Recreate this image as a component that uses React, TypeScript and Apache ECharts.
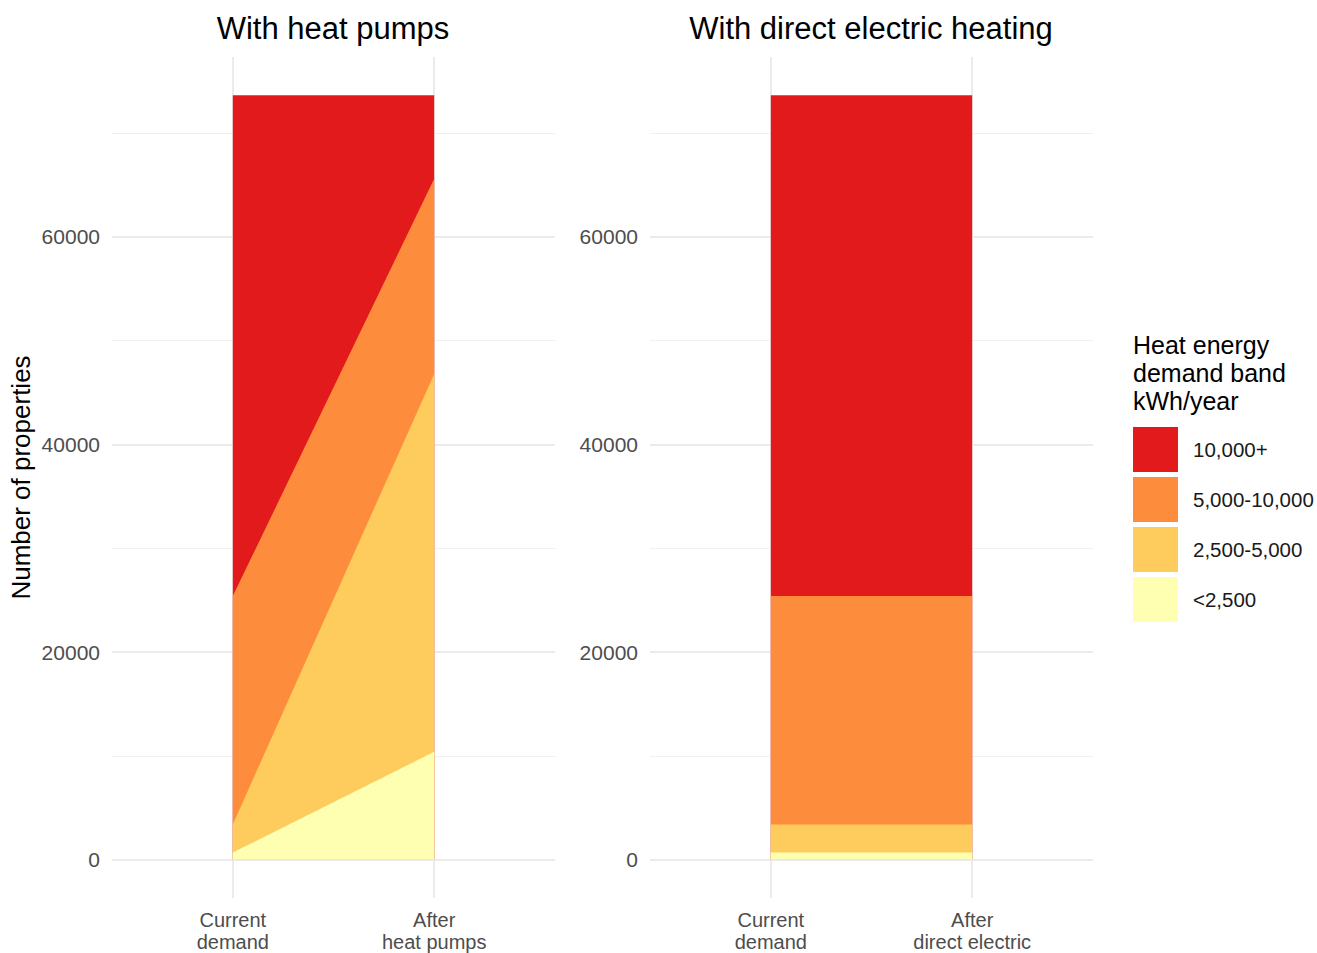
import React, { useEffect, useRef } from 'react';
import * as echarts from 'echarts';

// ---- data ----
const bands = ['<2,500', '2,500-5,000', '5,000-10,000', '10,000+'];
const bandColors = ['#FFFFB2', '#FECC5C', '#FD8D3C', '#E31A1C'];
const legendOrder = ['10,000+', '5,000-10,000', '2,500-5,000', '<2,500'];
const panelTitles = ['With heat pumps', 'With direct electric heating'];
const heatPumpCategories = ['Current\ndemand', 'After\nheat pumps'];
const directCategories = ['Current\ndemand', 'After\ndirect electric'];
const xPositions = [1, 2];
// band counts, bottom (<2,500) to top (10,000+)
const heatPumpsCurrent = [700, 2700, 22000, 48250];
const heatPumpsAfter = [10400, 36400, 18800, 8050];
const directCurrent = [700, 2700, 22000, 48250];
const directAfter = [700, 2700, 22000, 48250];
const yTickValues = [0, 20000, 40000, 60000];
const yMinorValues = [10000, 30000, 50000, 70000];
const legendTitle = 'Heat energy\ndemand band\nkWh/year';
const yAxisTitle = 'Number of properties';

const FONT = '"Liberation Sans", Arial, sans-serif';

function cumulative(arr: number[]): number[] {
  const out: number[] = [];
  let s = 0;
  for (const v of arr) {
    s += v;
    out.push(s);
  }
  return out;
}

export default function App() {
  const ref = useRef<HTMLDivElement>(null);

  useEffect(() => {
    if (!ref.current) return;
    const chart = echarts.init(ref.current, null, { renderer: 'svg' });

    const panels = [
      { cur: cumulative(heatPumpsCurrent), after: cumulative(heatPumpsAfter), cats: heatPumpCategories },
      { cur: cumulative(directCurrent), after: cumulative(directAfter), cats: directCategories },
    ];
    const maxTotal = Math.max(...panels.map((p) => Math.max(p.cur[3], p.after[3])));
    const pad = maxTotal * 0.05;
    const yMin = -pad;
    const yMax = maxTotal + pad;

    const gridLefts = [112, 650];
    const grids = gridLefts.map((l) => ({ left: l, top: 57, width: 443, height: 842 }));

    const xAxes = panels.map((p, i) => ({
      type: 'value',
      gridIndex: i,
      min: 0.4,
      max: 2.6,
      axisLine: { show: false },
      axisTick: { show: false },
      splitLine: { show: false },
      axisLabel: {
        customValues: xPositions,
        formatter: (v: number) => p.cats[xPositions.indexOf(v)] ?? '',
        fontSize: 20,
        lineHeight: 22,
        color: '#4D4D4D',
        fontFamily: FONT,
        margin: 11,
      },
    }));

    const yAxes = panels.map((p, i) => ({
      type: 'value',
      gridIndex: i,
      min: yMin,
      max: yMax,
      axisLine: { show: false },
      axisTick: { show: false },
      splitLine: { show: false },
      axisLabel: {
        customValues: yTickValues,
        formatter: (v: number) => String(Math.round(v)),
        fontSize: 21,
        color: '#4D4D4D',
        fontFamily: FONT,
        margin: 12,
      },
      name: i === 0 ? yAxisTitle : '',
      nameLocation: 'middle',
      nameGap: 78,
      nameTextStyle: { fontSize: 26, color: '#000', fontFamily: FONT },
    }));

    const major = { color: '#EBEBEB', width: 2, type: 'solid' };
    const minor = { color: '#F0F0F0', width: 1, type: 'solid' };

    const series: any[] = [];
    panels.forEach((p, i) => {
      series.push({
        type: 'line',
        name: '',
        xAxisIndex: i,
        yAxisIndex: i,
        data: [],
        z: 0,
        silent: true,
        markLine: {
          silent: true,
          z: 0,
          symbol: ['none', 'none'],
          label: { show: false },
          animation: false,
          data: [
            ...yMinorValues.map((v) => ({ yAxis: v, lineStyle: minor })),
            ...yTickValues.map((v) => ({ yAxis: v, lineStyle: major })),
            ...xPositions.map((v) => ({ xAxis: v, lineStyle: major })),
          ],
        },
      });
      for (let b = bands.length - 1; b >= 0; b--) {
        series.push({
          type: 'line',
          name: bands[b],
          xAxisIndex: i,
          yAxisIndex: i,
          z: 3,
          color: bandColors[b],
          symbol: 'none',
          showSymbol: false,
          lineStyle: { width: 0 },
          areaStyle: { color: bandColors[b], opacity: 1 },
          data: [
            [xPositions[0], p.cur[b]],
            [xPositions[1], p.after[b]],
          ],
        });
      }
    });

    const option: any = {
      animation: false,
      backgroundColor: '#ffffff',
      grid: grids,
      xAxis: xAxes,
      yAxis: yAxes,
      series,
      legend: {
        data: legendOrder,
        orient: 'vertical',
        left: 1133,
        top: 427,
        padding: 0,
        icon: 'rect',
        itemWidth: 45,
        itemHeight: 45,
        itemGap: 5,
        itemStyle: { borderWidth: 0 },
        textStyle: { fontSize: 20.5, color: '#1A1A1A', fontFamily: FONT, padding: [0, 0, 0, 10] },
        selectedMode: false,
      },
      graphic: [
        {
          type: 'text',
          x: 333,
          y: 28,
          style: {
            text: panelTitles[0],
            textAlign: 'center',
            textVerticalAlign: 'middle',
            fontSize: 31,
            fontFamily: FONT,
            fill: '#000',
          },
        },
        {
          type: 'text',
          x: 871,
          y: 28,
          style: {
            text: panelTitles[1],
            textAlign: 'center',
            textVerticalAlign: 'middle',
            fontSize: 31,
            fontFamily: FONT,
            fill: '#000',
          },
        },
        {
          type: 'text',
          x: 1133,
          y: 331,
          style: {
            text: legendTitle,
            textAlign: 'left',
            textVerticalAlign: 'top',
            fontSize: 25,
            lineHeight: 28,
            fontFamily: FONT,
            fill: '#000',
          },
        },
      ],
    };

    chart.setOption(option);
    return () => chart.dispose();
  }, []);

  return (
    <div
      ref={ref}
      style={{ position: 'absolute', left: 0, top: 0, width: 1317, height: 953, background: '#fff' }}
    />
  );
}
